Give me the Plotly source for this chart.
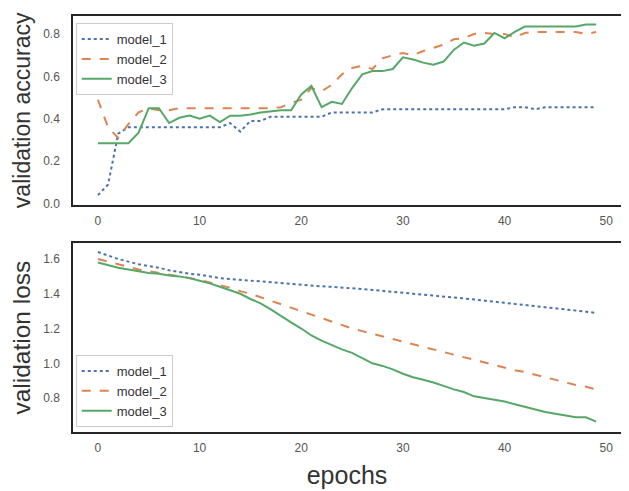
import plotly.graph_objects as go
from plotly.subplots import make_subplots

epochs = list(range(50))

acc_model_1 = [0.04, 0.09, 0.33, 0.36, 0.36, 0.36, 0.36, 0.36, 0.36, 0.36,
               0.36, 0.36, 0.36, 0.38, 0.34, 0.39, 0.39, 0.41, 0.41, 0.41,
               0.41, 0.41, 0.41, 0.43, 0.43, 0.43, 0.43, 0.43, 0.445, 0.445,
               0.445, 0.445, 0.445, 0.445, 0.445, 0.445, 0.445, 0.445, 0.445, 0.445,
               0.445, 0.455, 0.455, 0.445, 0.455, 0.455, 0.455, 0.455, 0.455, 0.455]
acc_model_2 = [0.49, 0.36, 0.31, 0.375, 0.43, 0.45, 0.44, 0.44, 0.45, 0.45,
               0.45, 0.45, 0.45, 0.45, 0.45, 0.45, 0.45, 0.45, 0.455, 0.475,
               0.49, 0.545, 0.53, 0.56, 0.61, 0.64, 0.65, 0.635, 0.685, 0.70,
               0.71, 0.70, 0.72, 0.735, 0.75, 0.775, 0.78, 0.80, 0.805, 0.80,
               0.80, 0.785, 0.805, 0.81, 0.81, 0.81, 0.81, 0.81, 0.80, 0.81]
acc_model_3 = [0.285, 0.285, 0.285, 0.285, 0.335, 0.45, 0.45, 0.38, 0.405, 0.415,
               0.40, 0.415, 0.385, 0.415, 0.415, 0.42, 0.43, 0.435, 0.44, 0.44,
               0.515, 0.555, 0.455, 0.48, 0.47, 0.545, 0.61, 0.625, 0.625, 0.635,
               0.69, 0.68, 0.665, 0.655, 0.67, 0.725, 0.76, 0.745, 0.755, 0.805,
               0.78, 0.81, 0.835, 0.835, 0.835, 0.835, 0.835, 0.835, 0.845, 0.845]

loss_model_1 = [1.64, 1.62, 1.60, 1.585, 1.57, 1.56, 1.55, 1.535, 1.525, 1.515,
                1.51, 1.50, 1.49, 1.485, 1.48, 1.475, 1.47, 1.465, 1.46, 1.455,
                1.45, 1.447, 1.443, 1.44, 1.437, 1.432, 1.427, 1.422, 1.417, 1.412,
                1.406, 1.40, 1.395, 1.39, 1.385, 1.379, 1.373, 1.367, 1.361, 1.355,
                1.349, 1.343, 1.337, 1.331, 1.325, 1.318, 1.311, 1.304, 1.297, 1.29]
loss_model_2 = [1.60, 1.585, 1.57, 1.555, 1.54, 1.53, 1.52, 1.51, 1.50, 1.49,
                1.48, 1.465, 1.45, 1.435, 1.415, 1.40, 1.38, 1.36, 1.34, 1.32,
                1.30, 1.28, 1.26, 1.24, 1.22, 1.20, 1.185, 1.17, 1.155, 1.14,
                1.125, 1.11, 1.095, 1.08, 1.065, 1.05, 1.035, 1.02, 1.005, 0.99,
                0.975, 0.96, 0.95, 0.935, 0.92, 0.905, 0.89, 0.875, 0.865, 0.85]
loss_model_3 = [1.58, 1.565, 1.55, 1.54, 1.53, 1.52, 1.515, 1.505, 1.50, 1.49,
                1.475, 1.46, 1.44, 1.42, 1.40, 1.37, 1.345, 1.31, 1.27, 1.235,
                1.20, 1.16, 1.13, 1.105, 1.08, 1.06, 1.03, 1.00, 0.985, 0.965,
                0.94, 0.92, 0.905, 0.89, 0.87, 0.85, 0.835, 0.81, 0.80, 0.79,
                0.78, 0.765, 0.75, 0.735, 0.72, 0.71, 0.70, 0.69, 0.69, 0.665]

names = ["model_1", "model_2", "model_3"]
colors = ["#4C72B0", "#DD8452", "#55A868"]
dashes = ["dot", "dash", "solid"]

acc_ticks = [0.0, 0.2, 0.4, 0.6, 0.8]
loss_ticks = [0.8, 1.0, 1.2, 1.4, 1.6]
epoch_ticks = [0, 10, 20, 30, 40, 50]

FONT = "Liberation Sans, Arial, sans-serif"
TXT = "#333333"
EDGE = "#262626"

fig = make_subplots(rows=2, cols=1, vertical_spacing=0.093)

for acc, nm, c, d in zip([acc_model_1, acc_model_2, acc_model_3], names, colors, dashes):
    fig.add_trace(go.Scatter(x=epochs, y=acc, mode="lines", name=nm,
                             line=dict(color=c, dash=d, width=2),
                             legend="legend"), row=1, col=1)
for loss, nm, c, d in zip([loss_model_1, loss_model_2, loss_model_3], names, colors, dashes):
    fig.add_trace(go.Scatter(x=epochs, y=loss, mode="lines", name=nm,
                             line=dict(color=c, dash=d, width=2),
                             legend="legend2"), row=2, col=1)

axis_common = dict(showline=True, mirror=True, linecolor=EDGE, linewidth=1.5,
                   showgrid=False, zeroline=False, ticks="",
                   tickfont=dict(family=FONT, size=12, color="#555555"))

fig.update_xaxes(range=[-2.45, 51.45], tickvals=epoch_ticks, ticklabelstandoff=4, **axis_common)
fig.update_xaxes(title=dict(text="epochs", font=dict(family=FONT, size=25, color=TXT), standoff=12),
                 row=2, col=1)
fig.update_yaxes(ticklabelstandoff=9, **axis_common)
fig.update_yaxes(range=[-0.005, 0.885], tickvals=acc_ticks, tickformat=".1f",
                 title=dict(text="validation accuracy", font=dict(family=FONT, size=23, color=TXT), standoff=6),
                 row=1, col=1)
fig.update_yaxes(range=[0.605, 1.69], tickvals=loss_ticks, tickformat=".1f",
                 title=dict(text="validation loss", font=dict(family=FONT, size=24.5, color=TXT), standoff=6),
                 row=2, col=1)

legend_common = dict(bgcolor="rgba(255,255,255,0.8)", bordercolor="#cccccc", borderwidth=1,
                     font=dict(family=FONT, size=13, color=TXT), xanchor="left", x=0.005)

fig.update_layout(
    width=621, height=483,
    margin=dict(l=65, r=8, t=6, b=58),
    plot_bgcolor="white", paper_bgcolor="white",
    legend=dict(**legend_common, y=0.983, yanchor="top"),
    legend2=dict(**legend_common, y=0.012, yanchor="bottom"),
)

fig.write_html("out.html")
